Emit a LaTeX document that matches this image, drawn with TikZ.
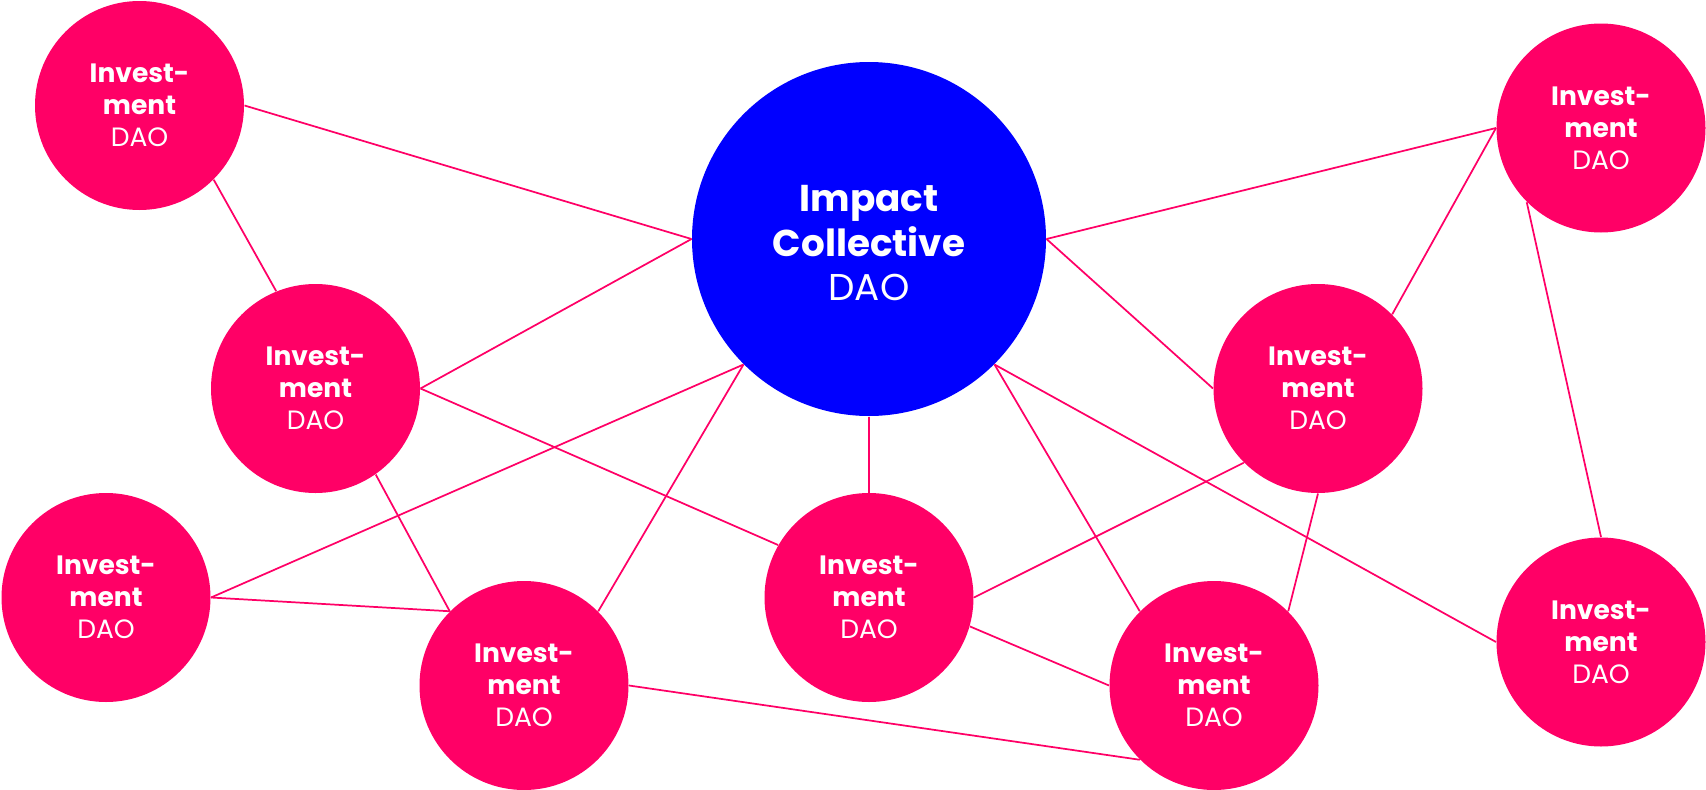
\documentclass[tikz,border=0pt]{standalone}
\usepackage{fontspec}
\setmainfont{Poppins}
\definecolor{daopink}{RGB}{255,0,102}
\definecolor{daoblue}{RGB}{0,0,255}
\tikzset{every picture/.style={line width=0.75pt}}
\tikzset{
  dao/.style={circle, fill=daopink, text=white, inner sep=0pt, minimum size=156.75pt, align=center, font=\fontsize{19.9}{24}\selectfont},
  hub/.style={circle, fill=daoblue, text=white, inner sep=0pt, minimum size=265.5pt, align=center, font=\fontsize{28}{33.4}\selectfont},
  link/.style={draw=daopink, line width=1.3pt}
}

\begin{document}
\begin{tikzpicture}[x=0.75pt,y=0.75pt,yscale=-1,xscale=1]
    %set diagram left start at 0, and has height of 789
    \useasboundingbox (0,0) rectangle (1706,789);

    %Shape: Circle
    \node[hub] (impact) at (869,239) {\rule{0pt}{26pt}\textbf{Impact}\\\textbf{Collective}\\DAO};
    %Shape: Circle
    \node[dao] (tl) at (139.5,105.5) {\textbf{Invest-}\\\textbf{ment}\\DAO};
    %Shape: Circle
    \node[dao] (ml) at (315.5,388.5) {\textbf{Invest-}\\\textbf{ment}\\DAO};
    %Shape: Circle
    \node[dao] (ll) at (106,597.5) {\textbf{Invest-}\\\textbf{ment}\\DAO};
    %Shape: Circle
    \node[dao] (bl) at (524,685.5) {\textbf{Invest-}\\\textbf{ment}\\DAO};
    %Shape: Circle
    \node[dao] (bm) at (869,597.5) {\textbf{Invest-}\\\textbf{ment}\\DAO};
    %Shape: Circle
    \node[dao] (mr) at (1318,388.5) {\textbf{Invest-}\\\textbf{ment}\\DAO};
    %Shape: Circle
    \node[dao] (br) at (1214,685.5) {\textbf{Invest-}\\\textbf{ment}\\DAO};
    %Shape: Circle
    \node[dao] (tr) at (1601,128) {\textbf{Invest-}\\\textbf{ment}\\DAO};
    %Shape: Circle
    \node[dao] (rr) at (1601,642) {\textbf{Invest-}\\\textbf{ment}\\DAO};

    %Straight Lines
    \draw[link] (tl.east) -- (impact.west);
    \draw[link] (tl.-45) -- (ml.112);
    \draw[link] (impact.west) -- (ml.east);
    \draw[link] (ml.east) -- (bm.150);
    \draw[link] (ml.-55) -- (bl.135);
    \draw[link] (ll.east) -- (impact.225);
    \draw[link] (ll.east) -- (bl.135);
    \draw[link] (impact.225) -- (bl.45);
    %Straight Lines
    \draw[link] (impact.south) -- (bm.north);
    \draw[link] (impact.-45) -- (br.135);
    \draw[link] (impact.-45) -- (rr.west);
    \draw[link] (impact.east) -- (tr.west);
    \draw[link] (impact.east) -- (mr.west);
    %Straight Lines
    \draw[link] (tr.west) -- (mr.45);
    \draw[link] (tr.225) -- (rr.north);
    \draw[link] (mr.225) -- (bm.east);
    \draw[link] (mr.south) -- (br.45);
    \draw[link] (bm.-16) -- (br.west);
    \draw[link] (bl.east) -- (br.225);
\end{tikzpicture}
\end{document}
